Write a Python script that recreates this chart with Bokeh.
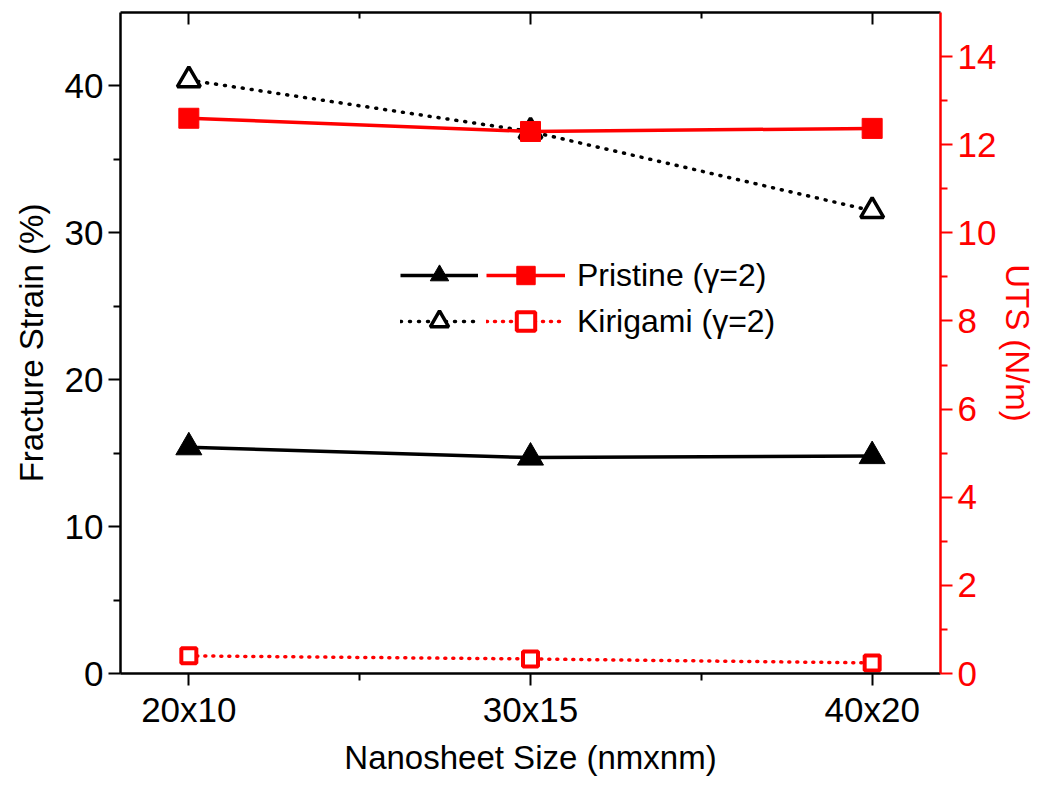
from bokeh.plotting import figure
from bokeh.models import (Range1d, LinearAxis, FixedTicker, Legend, LegendItem)
from bokeh.core.properties import value
from bokeh.embed import file_html
from bokeh.resources import INLINE

# ---- data ----
sizes = ["20x10", "30x15", "40x20"]
x_idx = [0, 1, 2]
pristine_strain = [15.4, 14.7, 14.8]
kirigami_strain = [40.4, 36.9, 31.5]
pristine_uts = [12.6, 12.3, 12.37]
kirigami_uts = [0.40, 0.33, 0.24]

FONT = "Liberation Sans"
RED = "#ff0000"

p = figure(width=1039, height=778, output_backend="svg", toolbar_location=None,
           x_range=Range1d(-0.2, 2.2), y_range=Range1d(0, 45),
           min_border_left=120, min_border_right=94, min_border_top=12,
           min_border_bottom=105, x_axis_location=None, y_axis_location=None)
p.background_fill_color = "white"
p.border_fill_color = "white"
p.outline_line_color = None
p.xgrid.visible = False
p.ygrid.visible = False
p.extra_y_ranges = {"uts": Range1d(0, 15)}

def style_axis(ax, color="black"):
    ax.axis_line_color = color
    ax.axis_line_width = 2.5
    ax.major_tick_line_color = color
    ax.minor_tick_line_color = color
    ax.major_tick_line_width = 2
    ax.minor_tick_line_width = 2
    ax.major_label_text_color = color
    ax.axis_label_text_color = color
    ax.major_label_text_font = FONT
    ax.axis_label_text_font = FONT
    ax.axis_label_text_font_style = "normal"
    ax.major_label_text_font_size = "35px"
    ax.axis_label_text_font_size = "33px"

# bottom axis
xb = LinearAxis(ticker=FixedTicker(ticks=x_idx, minor_ticks=[0.5, 1.5]),
                axis_label="Nanosheet Size (nmxnm)")
xb.major_label_overrides = {i: s for i, s in zip(x_idx, sizes)}
style_axis(xb)
xb.major_tick_out = 12
xb.major_tick_in = 0
xb.minor_tick_out = 7
xb.minor_tick_in = 0
xb.major_label_standoff = 4
xb.axis_label_standoff = 7
p.add_layout(xb, "below")

# top axis (ticks inward, no labels)
xt = LinearAxis(ticker=FixedTicker(ticks=x_idx, minor_ticks=[0.5, 1.5]))
style_axis(xt)
xt.major_label_text_font_size = "0px"
xt.major_tick_out = 0
xt.major_tick_in = 12
xt.minor_tick_out = 0
xt.minor_tick_in = 6
xt.major_label_standoff = 0
p.add_layout(xt, "above")

# left axis
yl = LinearAxis(ticker=FixedTicker(ticks=[0, 10, 20, 30, 40],
                                   minor_ticks=[5, 15, 25, 35]),
                axis_label="Fracture Strain (%)")
style_axis(yl)
yl.major_tick_out = 12
yl.major_tick_in = 0
yl.minor_tick_out = 7
yl.minor_tick_in = 0
yl.major_label_standoff = 5
yl.axis_label_standoff = 12
p.add_layout(yl, "left")

# right axis (UTS)
yr = LinearAxis(y_range_name="uts",
                ticker=FixedTicker(ticks=[0, 2, 4, 6, 8, 10, 12, 14],
                                   minor_ticks=[1, 3, 5, 7, 9, 11, 13]),
                axis_label="UTS (N/m)")
style_axis(yr, RED)
yr.major_tick_out = 12
yr.major_tick_in = 0
yr.minor_tick_out = 7
yr.minor_tick_in = 0
yr.major_label_standoff = 5
yr.axis_label_standoff = 0
p.add_layout(yr, "right")

# ---- series ----
l1 = p.line(x_idx, pristine_strain, line_color="black", line_width=3.5)
m1 = p.scatter(x_idx, pristine_strain, marker="triangle", size=26,
               fill_color="black", line_color="black", line_width=1)

l2 = p.line(x_idx, kirigami_strain, line_color="black", line_width=3.5,
            line_dash="1 8", line_cap="round")
m2 = p.scatter(x_idx, kirigami_strain, marker="triangle", size=23,
               fill_color="white", line_color="black", line_width=3.5)

l3 = p.line(x_idx, pristine_uts, line_color=RED, line_width=3.5, y_range_name="uts")
m3 = p.scatter(x_idx, pristine_uts, marker="square", size=20, fill_color=RED,
               line_color=RED, line_width=1, y_range_name="uts")

l4 = p.line(x_idx, kirigami_uts, line_color=RED, line_width=3.5, y_range_name="uts",
            line_dash="1 7", line_cap="round")
m4 = p.scatter(x_idx, kirigami_uts, marker="square", size=15, fill_color="white",
               line_color=RED, line_width=4, y_range_name="uts")

# ---- legends (black glyph column + red glyph column with labels) ----
def make_legend(items, loc, gw):
    lg = Legend(items=items, location=loc, orientation="vertical",
                glyph_width=gw, glyph_height=46, label_height=46,
                spacing=0, padding=0, margin=0, label_standoff=12,
                border_line_color=None, background_fill_alpha=0)
    lg.label_text_font = FONT
    lg.label_text_font_size = "32px"
    lg.label_text_color = "black"
    return lg

leg_black = make_legend([LegendItem(label=value(" "), renderers=[l1, m1]),
                         LegendItem(label=value(" "), renderers=[l2, m2])],
                        (280, 329), 78)
leg_red = make_legend([LegendItem(label=value("Pristine (\u03b3=2)"), renderers=[l3, m3]),
                       LegendItem(label=value("Kirigami (\u03b3=2)"), renderers=[l4, m4])],
                      (366, 329), 79)
p.add_layout(leg_black, "center")
p.add_layout(leg_red, "center")

open("out.html", "w").write(file_html(p, INLINE))
